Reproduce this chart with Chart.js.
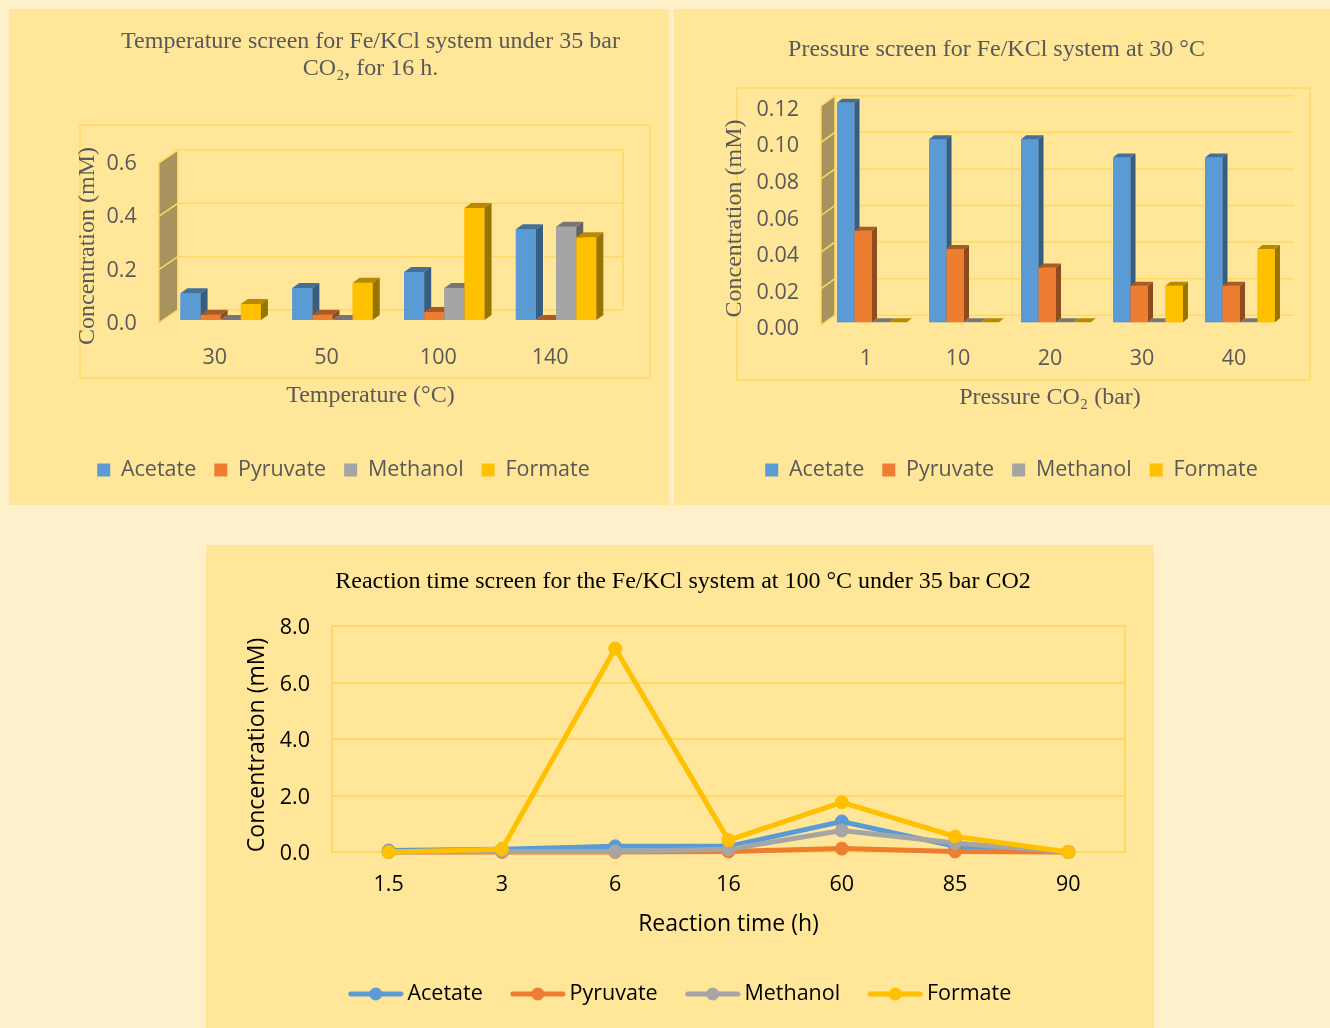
<!DOCTYPE html>
<html>
<head>
<meta charset="utf-8">
<script src="https://cdn.jsdelivr.net/npm/chart.js@4/dist/chart.umd.min.js"></script>
<style>
  html, body { margin: 0; padding: 0; background: #FFF0CC; }
  body { width: 1330px; height: 1028px; position: relative; overflow: hidden; }
  .panel { position: absolute; background: #FFE699; }
  .panel canvas { display: block; }
  #p1 { left: 9px; top: 9px; width: 660px; height: 496px; }
  #p2 { left: 674px; top: 9px; width: 656px; height: 496px; }
  #p3 { left: 206px; top: 545px; width: 948px; height: 483px; }
</style>
</head>
<body>
<div class="panel" id="p1"><canvas id="c1" width="660" height="496"></canvas></div>
<div class="panel" id="p2"><canvas id="c2" width="656" height="496"></canvas></div>
<div class="panel" id="p3"><canvas id="c3" width="948" height="483"></canvas></div>
<script>
// Products measured in every screen
const seriesNames = ['Acetate', 'Pyruvate', 'Methanol', 'Formate'];
const seriesColors = ['#5B9BD5', '#ED7D31', '#A5A5A5', '#FFC000'];

// Temperature screen (mM), 35 bar CO2, 16 h
const tempLabels = ['30', '50', '100', '140'];
const tempAcetate = [0.10, 0.12, 0.18, 0.34];
const tempPyruvate = [0.02, 0.02, 0.03, 0.00];
const tempMethanol = [0.00, 0.00, 0.12, 0.35];
const tempFormate = [0.06, 0.14, 0.42, 0.31];

// Pressure screen (mM), 30 °C
const pressLabels = ['1', '10', '20', '30', '40'];
const pressAcetate = [0.12, 0.10, 0.10, 0.09, 0.09];
const pressPyruvate = [0.05, 0.04, 0.03, 0.02, 0.02];
const pressMethanol = [0.00, 0.00, 0.00, 0.00, 0.00];
const pressFormate = [0.00, 0.00, 0.00, 0.02, 0.04];

// Reaction time screen (mM), 100 °C, 35 bar CO2
const timeLabels = ['1.5', '3', '6', '16', '60', '85', '90'];
const timeAcetate = [0.05, 0.10, 0.20, 0.20, 1.08, 0.20, 0.00];
const timePyruvate = [0.00, 0.00, 0.00, 0.02, 0.12, 0.02, 0.00];
const timeMethanol = [0.00, 0.02, 0.02, 0.10, 0.76, 0.32, 0.00];
const timeFormate = [0.00, 0.10, 7.20, 0.42, 1.76, 0.55, 0.00];

const SANS = "'Open Sans', 'Noto Sans', sans-serif";
const SERIF = "'Liberation Serif', 'DejaVu Serif', serif";
const GREY = '#595959';
const GRID = '#FFD966';

function shade(hex, f) {
  const n = parseInt(hex.slice(1), 16);
  const r = (n >> 16) & 255, g = (n >> 8) & 255, b = n & 255;
  return `rgb(${Math.round(r * f)},${Math.round(g * f)},${Math.round(b * f)})`;
}

// Thin border around the plot region, offset from the chart area
const frame = {
  id: 'frame',
  beforeDraw(chart, args, o) {
    const a = chart.chartArea, ctx = chart.ctx;
    ctx.save();
    ctx.strokeStyle = o.color;
    ctx.lineWidth = o.width;
    ctx.strokeRect(a.left + o.inset[0], a.top + o.inset[1],
      (a.right + o.inset[2]) - (a.left + o.inset[0]),
      (a.bottom + o.inset[3]) - (a.top + o.inset[1]));
    ctx.restore();
  }
};

// Side wall, back-wall grid and extruded (3-D looking) bars
const bar3d = {
  id: 'bar3d',
  beforeDatasetsDraw(chart, args, o) {
    const { ctx, chartArea: a } = chart;
    const y = chart.scales.y;
    const fx = a.left + o.wallFront;
    const bx = fx + o.wallDx;
    const fy = v => y.getPixelForValue(v) + o.wallFrontDy;
    const by = v => fy(v) + o.wallDy;
    const vmin = y.min, vmax = y.max;
    ctx.save();
    ctx.fillStyle = o.wallColor;
    ctx.beginPath();
    ctx.moveTo(fx, fy(vmin)); ctx.lineTo(fx, fy(vmax));
    ctx.lineTo(bx, by(vmax)); ctx.lineTo(bx, by(vmin));
    ctx.closePath(); ctx.fill();
    ctx.strokeStyle = o.gridColor;
    ctx.lineWidth = o.gridWidth;
    ctx.stroke();
    const rx = a.right + o.backRight;
    y.ticks.forEach(t => {
      ctx.beginPath();
      ctx.moveTo(fx, fy(t.value)); ctx.lineTo(bx, by(t.value)); ctx.lineTo(rx, by(t.value));
      ctx.stroke();
    });
    if (o.backEdge) {
      ctx.beginPath(); ctx.moveTo(rx, by(vmin)); ctx.lineTo(rx, by(vmax)); ctx.stroke();
    }
    ctx.restore();
  },
  afterDatasetsDraw(chart, args, o) {
    const ctx = chart.ctx;
    const bars = [];
    chart.data.datasets.forEach((ds, i) => {
      chart.getDatasetMeta(i).data.forEach(el => bars.push({ el, color: ds.backgroundColor }));
    });
    bars.sort((p, q) => p.el.x - q.el.x);
    const dx = o.dx, dy = o.dy;
    ctx.save();
    bars.forEach(({ el, color }) => {
      const { x, y, base, width } = el.getProps(['x', 'y', 'base', 'width'], true);
      const l = x - width / 2, r = x + width / 2;
      ctx.fillStyle = color;
      ctx.fillRect(l, y, width, base - y);
      ctx.fillStyle = shade(color, 0.72);
      ctx.beginPath();
      ctx.moveTo(l, y); ctx.lineTo(l + dx, y - dy); ctx.lineTo(r + dx, y - dy); ctx.lineTo(r, y);
      ctx.closePath(); ctx.fill();
      ctx.fillStyle = shade(color, 0.6);
      ctx.beginPath();
      ctx.moveTo(r, y); ctx.lineTo(r + dx, y - dy); ctx.lineTo(r + dx, base - dy); ctx.lineTo(r, base);
      ctx.closePath(); ctx.fill();
    });
    ctx.restore();
  }
};

function barSets(values) {
  return seriesNames.map((name, i) => ({
    label: name, data: values[i], backgroundColor: seriesColors[i], borderWidth: 0,
    barPercentage: 1
  }));
}

function barChart(id, cfg) {
  return new Chart(document.getElementById(id), {
    type: 'bar',
    data: { labels: cfg.labels, datasets: barSets(cfg.values).map(d => Object.assign(d, { categoryPercentage: cfg.catPct })) },
    plugins: [frame, bar3d],
    options: {
      responsive: false, animation: false,
      layout: { padding: { left: cfg.padLeft, right: 0, top: 0, bottom: 14.25 } },
      scales: {
        x: {
          grid: { display: false, drawTicks: false }, border: { display: false },
          ticks: { color: GREY, padding: cfg.xTickPad, labelOffset: -6, font: { family: SANS, size: 21.5 } },
          title: { display: true, text: cfg.xTitle, color: GREY, font: { family: SERIF, size: 24 }, padding: { top: 0, bottom: cfg.xTitlePad } },
          afterFit: s => { s.height = cfg.xHeight; }
        },
        y: {
          min: 0, max: cfg.max,
          grid: { display: false, drawTicks: false }, border: { display: false },
          ticks: { stepSize: cfg.step, color: GREY, padding: cfg.yTickPad, labelOffset: cfg.yLabelOffset, font: { family: SANS, size: 21.5 },
                   callback: v => v.toFixed(cfg.digits) },
          title: { display: true, text: 'Concentration (mM)  ', color: GREY, font: { family: SERIF, size: 24 }, padding: { top: cfg.yTitlePad, bottom: 0 } },
          afterFit: s => { s.width = cfg.yWidth; }
        },
        gutter: {
          type: 'linear', position: 'right', display: true,
          ticks: { display: false }, grid: { display: false, drawTicks: false }, border: { display: false },
          afterFit: s => { s.width = cfg.gutter; }
        }
      },
      plugins: {
        title: {
          display: true, text: cfg.title, color: GREY,
          font: { family: SERIF, size: 24, weight: 'normal', lineHeight: 1.125 },
          padding: { top: cfg.titleTop, bottom: cfg.titleBottom }
        },
        legend: {
          position: 'bottom',
          labels: { color: GREY, boxWidth: 13, boxHeight: 13, padding: 18, font: { family: SANS, size: 21.5 } }
        },
        tooltip: { enabled: false },
        frame: { color: GRID, width: 1.5, inset: cfg.frame },
        bar3d: Object.assign({ wallColor: '#A8935F', gridColor: GRID, gridWidth: 1.5 }, cfg.depth)
      }
    }
  });
}

barChart('c1', {
  labels: tempLabels,
  values: [tempAcetate, tempPyruvate, tempMethanol, tempFormate],
  title: ['         Temperature screen for Fe/KCl system under 35 bar', '         CO\u2082, for 16 h.'],
  xTitle: 'Temperature (\u00B0C)      ',
  max: 0.6, step: 0.2, digits: 1, catPct: 0.72,
  padLeft: 9, yWidth: 146.8, gutter: 57, yTickPad: 28, yLabelOffset: 4, yTitlePad: 55.6,
  titleTop: 19.5, titleBottom: 77.5,
  xHeight: 121.25, xTickPad: 25.1, xTitlePad: 30.85,
  frame: [-84.8, -35, 38, 58],
  depth: { dx: 7, dy: 5, wallFront: -6, wallFrontDy: 3, wallDx: 19, wallDy: -13, backRight: 11, backEdge: true }
});

barChart('c2', {
  labels: pressLabels,
  values: [pressAcetate, pressPyruvate, pressMethanol, pressFormate],
  title: 'Pressure screen for Fe/KCl system at 30 \u00B0C     ',
  xTitle: 'Pressure CO\u2082 (bar)  ',
  max: 0.12, step: 0.02, digits: 2, catPct: 0.76,
  padLeft: 19, yWidth: 133, gutter: 44, yTickPad: 27, yLabelOffset: 7, yTitlePad: 27.6,
  titleTop: 27.5, titleBottom: 39.2,
  xHeight: 118.95, xTickPad: 23.8, xTitlePad: 28.85,
  frame: [-89, -14.7, 24, 57.7],
  depth: { dx: 5, dy: 4, wallFront: -5, wallFrontDy: 3, wallDx: 14, wallDy: -10, backRight: 8, backEdge: false }
});

// Legend swatch: short line with a marker in the middle
function lineSwatch(color) {
  const c = document.createElement('canvas');
  c.width = 56; c.height = 14;
  const g = c.getContext('2d');
  g.strokeStyle = color; g.lineWidth = 5; g.lineCap = 'round';
  g.beginPath(); g.moveTo(3, 7); g.lineTo(53, 7); g.stroke();
  g.fillStyle = color;
  g.beginPath(); g.arc(28, 7, 6.5, 0, Math.PI * 2); g.fill();
  return c;
}
const swatches = seriesColors.map(lineSwatch);

const timeValues = [timeAcetate, timePyruvate, timeMethanol, timeFormate];
new Chart(document.getElementById('c3'), {
  type: 'line',
  data: {
    labels: timeLabels,
    datasets: seriesNames.map((name, i) => ({
      label: name, data: timeValues[i],
      borderColor: seriesColors[i], backgroundColor: seriesColors[i],
      borderWidth: 5, tension: 0, clip: false,
      pointRadius: 6.5, pointBorderWidth: 1, pointBorderColor: seriesColors[i], pointBackgroundColor: seriesColors[i],
      order: seriesNames.length - i
    }))
  },
  plugins: [frame],
  options: {
    responsive: false, animation: false,
    layout: { padding: { left: 6, right: 0, top: 0, bottom: 13.25 } },
    scales: {
      x: {
        offset: true,
        grid: { display: false, drawTicks: false }, border: { display: false },
        ticks: { color: '#000', padding: 20.1, font: { family: SANS, size: 21.5 } },
        title: { display: true, text: 'Reaction time (h)', color: '#000', font: { family: SANS, size: 23 }, padding: { top: 0, bottom: 11.45 } },
        afterFit: s => { s.height = 97.25; }
      },
      y: {
        min: 0, max: 8,
        grid: { color: GRID, lineWidth: 2, drawTicks: false }, border: { display: false },
        ticks: { stepSize: 2, color: '#000', padding: 22, labelOffset: 2, font: { family: SANS, size: 21.5 }, callback: v => v.toFixed(1) },
        title: { display: true, text: 'Concentration (mM)  ', color: '#000', font: { family: SANS, size: 23 }, padding: { top: 31.2, bottom: 0 } },
        afterFit: s => { s.width = 120; }
      },
      gutter: {
        type: 'linear', position: 'right', display: true,
        ticks: { display: false }, grid: { display: false, drawTicks: false }, border: { display: false },
        afterFit: s => { s.width = 29; }
      }
    },
    plugins: {
      title: {
        display: true, text: 'Reaction time screen for the Fe/KCl system at 100 \u00B0C under 35 bar CO2',
        color: '#000', font: { family: SERIF, size: 24, weight: 'normal', lineHeight: 1.125 },
        padding: { top: 23.5, bottom: 30.5 }
      },
      legend: {
        position: 'bottom',
        labels: {
          color: '#000', usePointStyle: true, pointStyleWidth: 42, padding: 34,
          font: { family: SANS, size: 21.5 },
          generateLabels(chart) {
            const items = Chart.defaults.plugins.legend.labels.generateLabels(chart);
            items.forEach(it => { it.pointStyle = swatches[it.datasetIndex]; });
            return items;
          },
          sort: (a, b) => a.datasetIndex - b.datasetIndex
        }
      },
      tooltip: { enabled: false },
      frame: { color: GRID, width: 2, inset: [0, 0, 0, 0] }
    }
  }
});
</script>
</body>
</html>
